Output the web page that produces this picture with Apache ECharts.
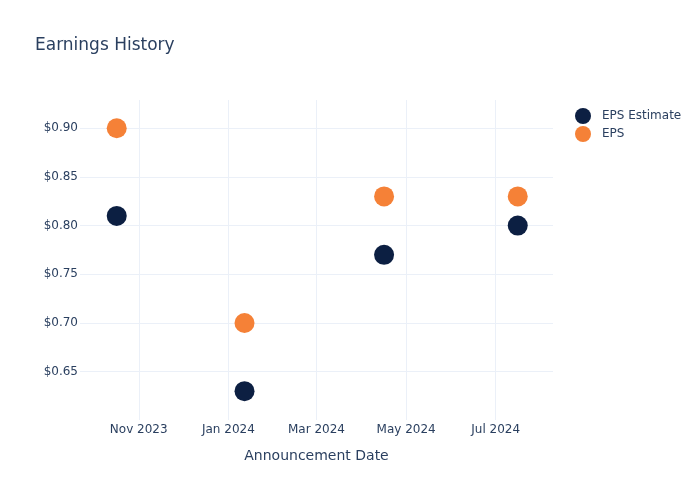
<!DOCTYPE html>
<html>
<head>
<meta charset="utf-8">
<script src="https://cdn.jsdelivr.net/npm/echarts@6/dist/echarts.min.js"></script>
<style>html,body{margin:0;padding:0;background:#fff}#c{width:700px;height:500px}</style>
</head>
<body>
<div id="c"></div>
<script>
const dates = ['2023-10-17', '2024-01-12', '2024-04-16', '2024-07-16'];
const epsEstimate = [0.81, 0.63, 0.77, 0.80];
const eps = [0.90, 0.70, 0.83, 0.83];
const xTickDates = ['2023-11-01', '2024-01-01', '2024-03-01', '2024-05-01', '2024-07-01'];
const yTicks = [0.65, 0.70, 0.75, 0.80, 0.85, 0.90];
const xRange = ['2023-09-22', '2024-08-09'];
const yRange = [0.6004, 0.929];

const ts = s => Date.parse(s);
const monthNames = ['Jan','Feb','Mar','Apr','May','Jun','Jul','Aug','Sep','Oct','Nov','Dec'];
const textColor = '#2a3f5f';
const font = 'DejaVu Sans';

const chart = echarts.init(document.getElementById('c'), null, {renderer: 'canvas'});
chart.setOption({
  animation: false,
  backgroundColor: '#fff',
  textStyle: {fontFamily: font},
  title: {
    text: 'Earnings History',
    left: 30, top: 32,
    textStyle: {fontSize: 17, fontWeight: 'normal', color: textColor, fontFamily: font}
  },
  legend: {
    orient: 'vertical',
    left: 570, top: 103,
    itemWidth: 28, itemHeight: 16, itemGap: 2,
    icon: 'circle', symbolKeepAspect: true,
    textStyle: {fontSize: 12, color: textColor, fontFamily: font},
    data: ['EPS Estimate', 'EPS']
  },
  grid: {left: 80, right: 147, top: 100, bottom: 80, containLabel: false},
  xAxis: {
    type: 'value',
    min: ts(xRange[0]), max: ts(xRange[1]),
    name: 'Announcement Date',
    nameLocation: 'middle', nameGap: 29,
    nameTextStyle: {fontSize: 14, color: textColor, fontFamily: font},
    axisLine: {show: false},
    axisTick: {show: false, customValues: xTickDates.map(ts)},
    axisLabel: {
      customValues: xTickDates.map(ts),
      margin: 4, fontSize: 12, color: textColor, fontFamily: font,
      formatter: v => { const d = new Date(v); return monthNames[d.getUTCMonth()] + ' ' + d.getUTCFullYear(); }
    },
    splitLine: {show: true, lineStyle: {color: '#EBF0F8', width: 1}}
  },
  yAxis: {
    type: 'value',
    min: yRange[0], max: yRange[1],
    axisLine: {show: false},
    axisTick: {show: false, customValues: yTicks},
    axisLabel: {
      customValues: yTicks,
      margin: 2, fontSize: 12, color: textColor, fontFamily: font,
      formatter: v => '$' + v.toFixed(2)
    },
    splitLine: {show: true, lineStyle: {color: '#EBF0F8', width: 1}}
  },
  series: [
    {
      name: 'EPS Estimate', type: 'scatter', symbolSize: 20,
      itemStyle: {color: '#0c1f42', opacity: 1},
      data: dates.map((d, i) => [ts(d), epsEstimate[i]])
    },
    {
      name: 'EPS', type: 'scatter', symbolSize: 20,
      itemStyle: {color: '#f58137', opacity: 1},
      data: dates.map((d, i) => [ts(d), eps[i]])
    }
  ]
});
</script>
</body>
</html>
